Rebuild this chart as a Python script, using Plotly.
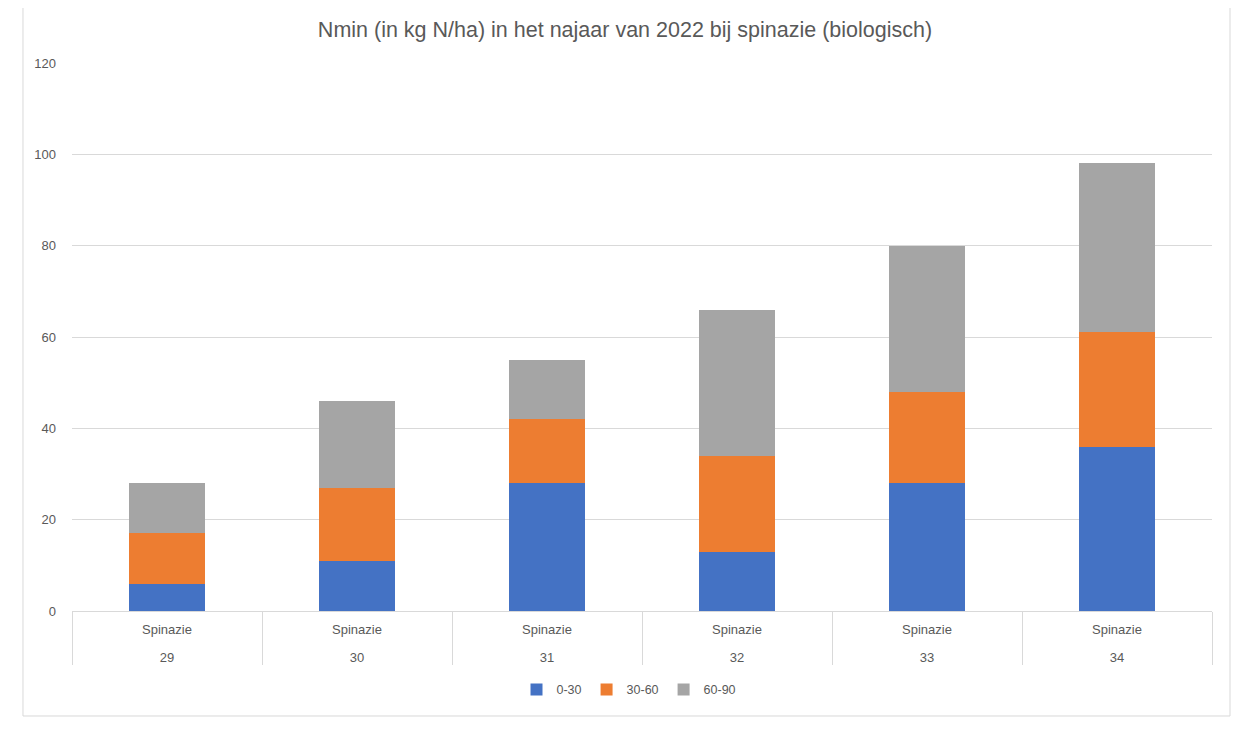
import plotly.graph_objects as go

# data
crop = ["Spinazie", "Spinazie", "Spinazie", "Spinazie", "Spinazie", "Spinazie"]
plots = ["29", "30", "31", "32", "33", "34"]
layer_0_30 = [6, 11, 28, 13, 28, 36]
layer_30_60 = [11, 16, 14, 21, 20, 25]
layer_60_90 = [11, 19, 13, 32, 32, 37]

series = [("0-30", layer_0_30, "#4472C4"),
          ("30-60", layer_30_60, "#ED7D31"),
          ("60-90", layer_60_90, "#A5A5A5")]

grey_txt = "#595959"
grid = "#D9D9D9"

# blank second line under the inner label gives the Excel-like row spacing
inner = [c + "<br>&nbsp;" for c in crop]

fig = go.Figure()
for name, vals, col in series:
    fig.add_trace(go.Bar(x=[plots, inner], y=vals, name=name,
                         marker=dict(color=col, line=dict(width=0))))

# page body adds 8px, so the figure is a bit smaller than the window
fig.update_layout(
    width=1250, height=726,
    barmode="stack", bargap=0.6,
    plot_bgcolor="white", paper_bgcolor="white",
    font=dict(family="Liberation Sans, Arial", size=13, color=grey_txt),
    margin=dict(l=64, r=46, t=55, b=123),
    title=dict(text="Nmin (in kg N/ha) in het najaar van 2022 bij spinazie (biologisch)",
               x=0.4936, xref="container", xanchor="center",
               y=0.97, yref="container", yanchor="middle",
               font=dict(size=21.5, color=grey_txt)),
    legend=dict(orientation="h", x=0.4886, xanchor="center", y=-0.144, yanchor="middle",
                font=dict(size=12.5, color=grey_txt), traceorder="normal",
                itemwidth=30),
    showlegend=True,
)
fig.update_yaxes(range=[0, 120], dtick=20, showgrid=True, gridcolor=grid, gridwidth=1,
                 zeroline=False, showline=False, ticks="", ticklabelstandoff=15,
                 tickfont=dict(size=13, color=grey_txt))
fig.update_xaxes(showline=True, linecolor=grid, linewidth=1, showdividers=True,
                 dividercolor=grid, dividerwidth=1, ticks="", ticklabelstandoff=6,
                 tickfont=dict(size=13, color=grey_txt))

# outer chart frame like Excel's chart area
fig.add_shape(type="rect", xref="paper", yref="paper",
              x0=-0.043, x1=1.0158, y0=-0.1916, y1=1.111,
              line=dict(color=grid, width=1), fillcolor="rgba(0,0,0,0)", layer="below")

fig.write_html("out.html")
